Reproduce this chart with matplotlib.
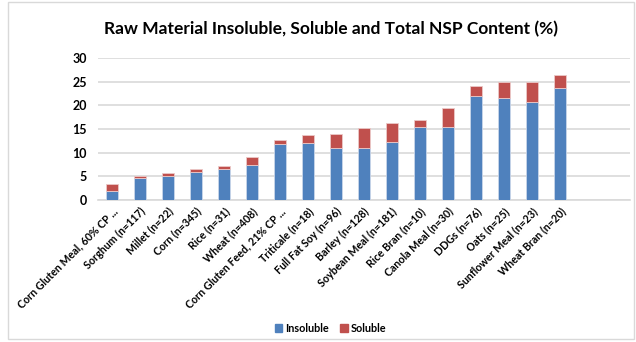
import matplotlib.pyplot as plt
import matplotlib.patches as mpatches

plt.rcParams['font.family'] = ['Lato', 'DejaVu Sans']
plt.rcParams['font.weight'] = 'bold'

# NSP content by raw material (% of dry matter)
materials = ["Corn Gluten Meal, 60% CP ...", "Sorghum (n=117)", "Millet (n=22)",
             "Corn (n=345)", "Rice (n=31)", "Wheat (n=408)",
             "Corn Gluten Feed, 21% CP ...", "Triticale (n=18)", "Full Fat Soy (n=96)",
             "Barley (n=128)", "Soybean Meal (n=181)", "Rice Bran (n=10)",
             "Canola Meal (n=30)", "DDGs (n=76)", "Oats (n=25)",
             "Sunflower Meal (n=23)", "Wheat Bran (n=20)"]
insoluble = [2.0, 4.7, 5.0, 5.9, 6.5, 7.5, 11.9, 12.1, 11.0,
             11.1, 12.3, 15.4, 15.5, 21.9, 21.6, 20.8, 23.6]
total = [3.5, 5.1, 5.8, 6.6, 7.1, 9.2, 12.8, 13.7, 14.0,
         15.2, 16.3, 16.9, 19.5, 24.1, 25.0, 25.0, 26.4]
soluble = [t - i for t, i in zip(total, insoluble)]

blue = '#4F81BD'
red = '#C0504D'

fig = plt.figure(figsize=(6.36, 3.42), dpi=100)
ax = fig.add_axes([0.154, 0.415, 0.836, 0.415])

x = list(range(len(materials)))
ax.bar(x, insoluble, width=0.42, color=blue, edgecolor='#C9D6EA', linewidth=0.6,
       label='Insoluble', zorder=3)
ax.bar(x, soluble, width=0.42, bottom=insoluble, color=red, edgecolor='#EBC9C8',
       linewidth=0.6, label='Soluble', zorder=3)

ax.set_xlim(-0.5, 18.5)
ax.set_ylim(0, 30)
ax.set_yticks(range(0, 31, 5))
ax.yaxis.grid(True, color='#D9D9D9', linewidth=1.2, zorder=0)
ax.set_axisbelow(True)
for side in ['top', 'right', 'left']:
    ax.spines[side].set_visible(False)
ax.spines['bottom'].set_color('#D9D9D9')
ax.spines['bottom'].set_linewidth(1.2)
ax.tick_params(axis='y', length=0, labelsize=9, pad=8)
ax.tick_params(axis='x', length=0, labelsize=7.7, pad=4)
ax.set_xticks(x)
ax.set_xticklabels(materials, rotation=45, ha='right', rotation_mode='anchor')

fig.suptitle('Raw Material Insoluble, Soluble and Total NSP Content (%)',
             x=0.52, y=0.94, fontsize=12.5, fontweight='bold')

handles = [mpatches.Patch(color=blue, label='Insoluble'),
           mpatches.Patch(color=red, label='Soluble')]
fig.legend(handles=handles, loc='center', bbox_to_anchor=(0.52, 0.04), ncol=2,
           frameon=False, fontsize=7.8, handlelength=0.7, handleheight=0.7,
           handletextpad=0.3, columnspacing=1.0)

# light frame around the whole chart
fig.patches.append(mpatches.Rectangle((0.012, 0.01), 0.985, 0.985, transform=fig.transFigure,
                                      fill=False, edgecolor='#D9D9D9', linewidth=1.0))

fig.savefig('out.png', dpi=100)
